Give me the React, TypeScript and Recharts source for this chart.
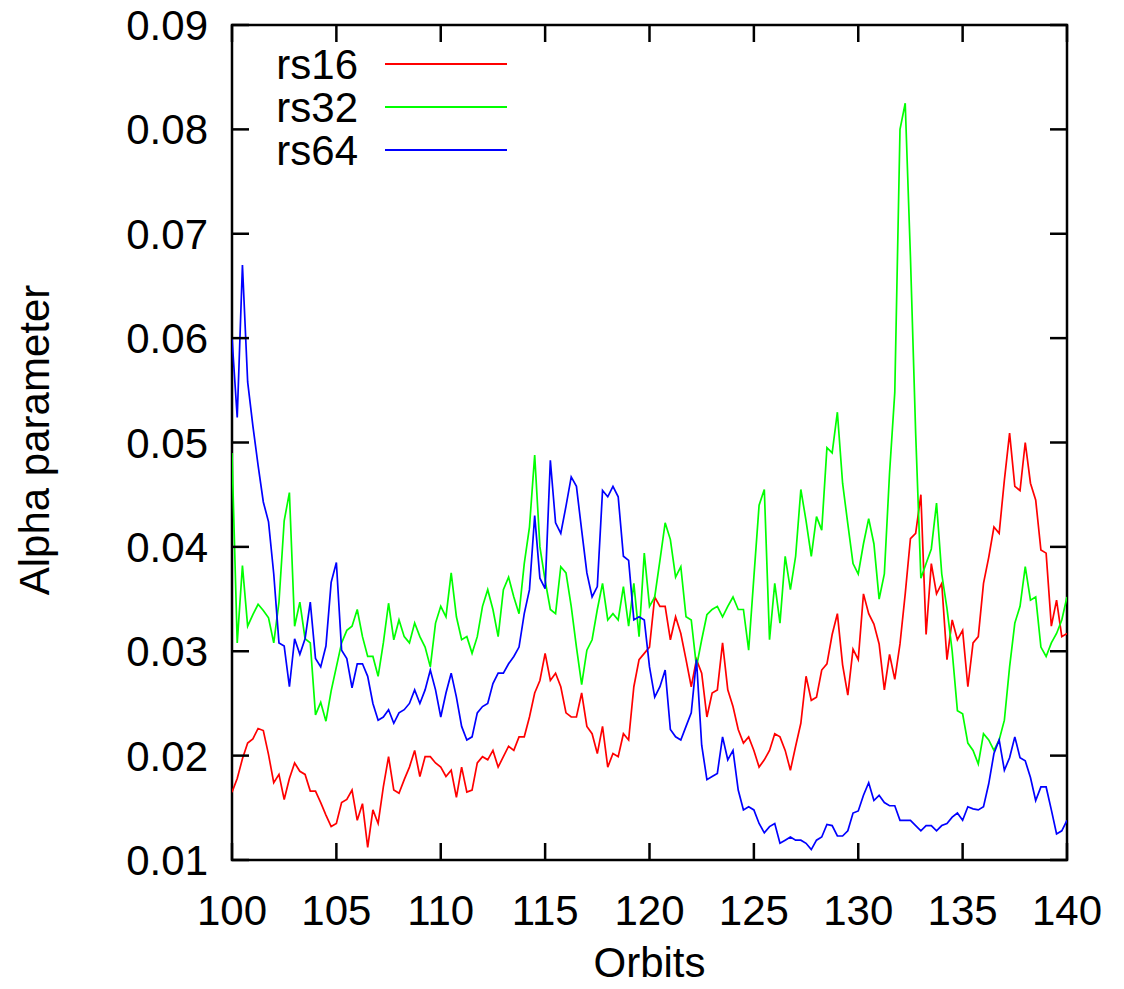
import React from 'react';
import { LineChart, Line, XAxis, YAxis, ReferenceArea, Legend } from 'recharts';

// orbit grid shared by all three runs (step 0.25)
const orbits: number[] = Array.from({ length: 161 }, (_, i) => 100 + i * 0.25);

const xTicks = [100, 105, 110, 115, 120, 125, 130, 135, 140];
const yTicks = [0.01, 0.02, 0.03, 0.04, 0.05, 0.06, 0.07, 0.08, 0.09];

const rs16 = [
  0.0165, 0.0178, 0.0197, 0.0212, 0.0216, 0.0226, 0.0224, 0.0201, 0.0174, 0.0182,
  0.0158, 0.0178, 0.0193, 0.0185, 0.0182, 0.0166, 0.0166, 0.0155, 0.0143, 0.0132,
  0.0135, 0.0155, 0.0158, 0.0167, 0.0138, 0.0154, 0.0112, 0.0148, 0.0135, 0.0170,
  0.0199, 0.0167, 0.0164, 0.0177, 0.0189, 0.0205, 0.0180, 0.0199, 0.0199, 0.0193,
  0.0189, 0.0180, 0.0186, 0.0160, 0.0189, 0.0165, 0.0167, 0.0193, 0.0199, 0.0196,
  0.0205, 0.0189, 0.0199, 0.0209, 0.0205, 0.0218, 0.0218, 0.0237, 0.0260, 0.0272,
  0.0298, 0.0272, 0.0279, 0.0266, 0.0241, 0.0237, 0.0237, 0.0260, 0.0228, 0.0221,
  0.0202, 0.0228, 0.0189, 0.0202, 0.0199, 0.0221, 0.0215, 0.0266, 0.0292, 0.0298,
  0.0304, 0.0352, 0.0343, 0.0343, 0.0311, 0.0333, 0.0317, 0.0292, 0.0266, 0.0292,
  0.0279, 0.0237, 0.0260, 0.0263, 0.0308, 0.0263, 0.0247, 0.0225, 0.0212, 0.0218,
  0.0205, 0.0189, 0.0196, 0.0205, 0.0221, 0.0218, 0.0205, 0.0186, 0.0209, 0.0231,
  0.0276, 0.0253, 0.0256, 0.0282, 0.0288, 0.0316, 0.0336, 0.0287, 0.0258, 0.0302,
  0.0292, 0.0355, 0.0336, 0.0326, 0.0307, 0.0263, 0.0297, 0.0273, 0.0307, 0.0355,
  0.0408, 0.0413, 0.0450, 0.0316, 0.0384, 0.0355, 0.0365, 0.0292, 0.0330, 0.0311,
  0.0320, 0.0266, 0.0308, 0.0314, 0.0365, 0.0390, 0.0419, 0.0413, 0.0464, 0.0509,
  0.0458, 0.0454, 0.0500, 0.0461, 0.0445, 0.0397, 0.0394, 0.0324, 0.0349, 0.0314,
  0.0317,
];

const rs32 = [
  0.0490, 0.0308, 0.0382, 0.0324, 0.0335, 0.0345, 0.0339, 0.0332, 0.0308, 0.0347,
  0.0425, 0.0452, 0.0324, 0.0347, 0.0312, 0.0308, 0.0239, 0.0251, 0.0233, 0.0262,
  0.0285, 0.0308, 0.0320, 0.0324, 0.0340, 0.0314, 0.0295, 0.0295, 0.0276, 0.0308,
  0.0346, 0.0311, 0.0330, 0.0314, 0.0308, 0.0327, 0.0314, 0.0304, 0.0285, 0.0327,
  0.0343, 0.0333, 0.0375, 0.0333, 0.0311, 0.0314, 0.0298, 0.0314, 0.0343, 0.0359,
  0.0340, 0.0314, 0.0359, 0.0371, 0.0352, 0.0336, 0.0384, 0.0419, 0.0488, 0.0400,
  0.0368, 0.0340, 0.0336, 0.0381, 0.0375, 0.0343, 0.0304, 0.0268, 0.0301, 0.0311,
  0.0340, 0.0365, 0.0330, 0.0336, 0.0330, 0.0362, 0.0324, 0.0365, 0.0314, 0.0394,
  0.0343, 0.0352, 0.0387, 0.0423, 0.0407, 0.0371, 0.0381, 0.0333, 0.0330, 0.0285,
  0.0311, 0.0335, 0.0340, 0.0343, 0.0333, 0.0343, 0.0352, 0.0340, 0.0340, 0.0301,
  0.0371, 0.0440, 0.0455, 0.0311, 0.0365, 0.0327, 0.0391, 0.0359, 0.0391, 0.0455,
  0.0425, 0.0391, 0.0429, 0.0416, 0.0495, 0.0490, 0.0529, 0.0461, 0.0422, 0.0384,
  0.0374, 0.0403, 0.0427, 0.0403, 0.0350, 0.0374, 0.0471, 0.0548, 0.0800, 0.0825,
  0.0678, 0.0509, 0.0370, 0.0384, 0.0398, 0.0442, 0.0374, 0.0341, 0.0300, 0.0243,
  0.0240, 0.0212, 0.0205, 0.0192, 0.0221, 0.0215, 0.0205, 0.0215, 0.0234, 0.0285,
  0.0327, 0.0343, 0.0381, 0.0349, 0.0352, 0.0304, 0.0295, 0.0308, 0.0317, 0.0330,
  0.0352,
];

const rs64 = [
  0.0600, 0.0524, 0.0670, 0.0558, 0.0516, 0.0478, 0.0443, 0.0424, 0.0374, 0.0308,
  0.0305, 0.0266, 0.0312, 0.0297, 0.0312, 0.0347, 0.0293, 0.0285, 0.0305, 0.0366,
  0.0385, 0.0301, 0.0293, 0.0265, 0.0288, 0.0288, 0.0276, 0.0250, 0.0234, 0.0237,
  0.0244, 0.0231, 0.0241, 0.0244, 0.0250, 0.0263, 0.0250, 0.0263, 0.0282, 0.0263,
  0.0237, 0.0260, 0.0279, 0.0256, 0.0228, 0.0215, 0.0218, 0.0241, 0.0247, 0.0250,
  0.0269, 0.0279, 0.0279, 0.0288, 0.0295, 0.0304, 0.0336, 0.0359, 0.0430, 0.0370,
  0.0360, 0.0483, 0.0423, 0.0413, 0.0439, 0.0467, 0.0458, 0.0416, 0.0375, 0.0352,
  0.0362, 0.0454, 0.0448, 0.0458, 0.0448, 0.0391, 0.0387, 0.0330, 0.0333, 0.0330,
  0.0285, 0.0256, 0.0266, 0.0282, 0.0225, 0.0218, 0.0215, 0.0228, 0.0241, 0.0292,
  0.0210, 0.0177, 0.0180, 0.0183, 0.0218, 0.0196, 0.0205, 0.0167, 0.0148, 0.0151,
  0.0148, 0.0135, 0.0126, 0.0132, 0.0135, 0.0116, 0.0119, 0.0122, 0.0119, 0.0119,
  0.0116, 0.0110, 0.0119, 0.0122, 0.0134, 0.0133, 0.0123, 0.0123, 0.0128, 0.0145,
  0.0147, 0.0162, 0.0174, 0.0157, 0.0162, 0.0155, 0.0152, 0.0152, 0.0138, 0.0138,
  0.0138, 0.0133, 0.0128, 0.0133, 0.0133, 0.0128, 0.0133, 0.0135, 0.0141, 0.0145,
  0.0138, 0.0151, 0.0149, 0.0148, 0.0151, 0.0173, 0.0202, 0.0215, 0.0186, 0.0198,
  0.0218, 0.0198, 0.0195, 0.0179, 0.0157, 0.0170, 0.0170, 0.0148, 0.0125, 0.0128,
  0.0138,
];

const series = [
  { key: 'rs16', color: '#ff0000' },
  { key: 'rs32', color: '#00ff00' },
  { key: 'rs64', color: '#0000ff' },
];

const data = orbits.map((orbit, i) => ({
  orbit,
  rs16: rs16[i],
  rs32: rs32[i],
  rs64: rs64[i],
}));

const W = 1124;
const H = 989;
const LEFT = 232;
const RIGHT = 1067;
const TOP = 25;
const BOTTOM = 860;
const TICK = 17;
const FONT = "'Liberation Sans', Arial, Helvetica, sans-serif";
const FONT_SIZE = 42;

const XTick = (props: any) => {
  const { x, payload } = props;
  return (
    <g>
      <line x1={x} y1={BOTTOM} x2={x} y2={BOTTOM - TICK} stroke="#000" strokeWidth={2.5} />
      <line x1={x} y1={TOP} x2={x} y2={TOP + TICK} stroke="#000" strokeWidth={2.5} />
      <text x={x} y={BOTTOM + 65} textAnchor="middle" fontFamily={FONT} fontSize={FONT_SIZE} fill="#000">
        {payload.value}
      </text>
    </g>
  );
};

const YTick = (props: any) => {
  const { y, payload } = props;
  return (
    <g>
      <line x1={LEFT} y1={y} x2={LEFT + TICK} y2={y} stroke="#000" strokeWidth={2.5} />
      <line x1={RIGHT} y1={y} x2={RIGHT - TICK} y2={y} stroke="#000" strokeWidth={2.5} />
      <text x={LEFT - 24} y={y + 15} textAnchor="end" fontFamily={FONT} fontSize={FONT_SIZE} fill="#000">
        {Number(payload.value).toFixed(2)}
      </text>
    </g>
  );
};

// gnuplot-style key: label on the left, line sample on the right
const Key = () => (
  <svg width={560} height={180} style={{ display: 'block' }}>
    {series.map((s, i) => {
      const cy = 64 + i * 43;
      return (
        <g key={s.key}>
          <text x={358} y={cy + 15} textAnchor="end" fontFamily={FONT} fontSize={FONT_SIZE} fill="#000">
            {s.key}
          </text>
          <line x1={385} y1={cy} x2={507} y2={cy} stroke={s.color} strokeWidth={2} />
        </g>
      );
    })}
  </svg>
);

export default function App() {
  return (
    <div style={{ position: 'absolute', left: 0, top: 0, width: W, height: H, background: '#fff' }}>
      <LineChart width={W} height={H} data={data} margin={{ top: TOP, right: W - RIGHT, left: 0, bottom: 0 }}>
        <XAxis
          dataKey="orbit"
          type="number"
          domain={[100, 140]}
          ticks={xTicks}
          interval={0}
          height={H - BOTTOM}
          axisLine={false}
          tickLine={false}
          tickSize={0}
          tick={<XTick />}
          allowDataOverflow
        />
        <YAxis
          type="number"
          domain={[0.01, 0.09]}
          ticks={yTicks}
          interval={0}
          width={LEFT}
          axisLine={false}
          tickLine={false}
          tickSize={0}
          tick={<YTick />}
          allowDataOverflow
        />
        <ReferenceArea x1={100} x2={140} y1={0.01} y2={0.09} fill="none" fillOpacity={0} stroke="#000" strokeWidth={2.5} />
        {series.map((s) => (
          <Line
            key={s.key}
            type="linear"
            dataKey={s.key}
            stroke={s.color}
            strokeWidth={1.7}
            dot={false}
            isAnimationActive={false}
          />
        ))}
        <Legend
          layout="vertical"
          align="center"
          verticalAlign="middle"
          content={<Key />}
          wrapperStyle={{ position: 'absolute', left: 0, top: 0, width: 560, height: 180 }}
        />
      </LineChart>
      <svg width={W} height={H} style={{ position: 'absolute', left: 0, top: 0, pointerEvents: 'none' }}>
        <text
          x={34}
          y={440}
          transform="rotate(-90 34 440)"
          textAnchor="middle"
          dominantBaseline="central"
          fontFamily={FONT}
          fontSize={FONT_SIZE}
          fill="#000"
        >
          Alpha parameter
        </text>
        <text x={(LEFT + RIGHT) / 2} y={977} textAnchor="middle" fontFamily={FONT} fontSize={FONT_SIZE} fill="#000">
          Orbits
        </text>
      </svg>
    </div>
  );
}
